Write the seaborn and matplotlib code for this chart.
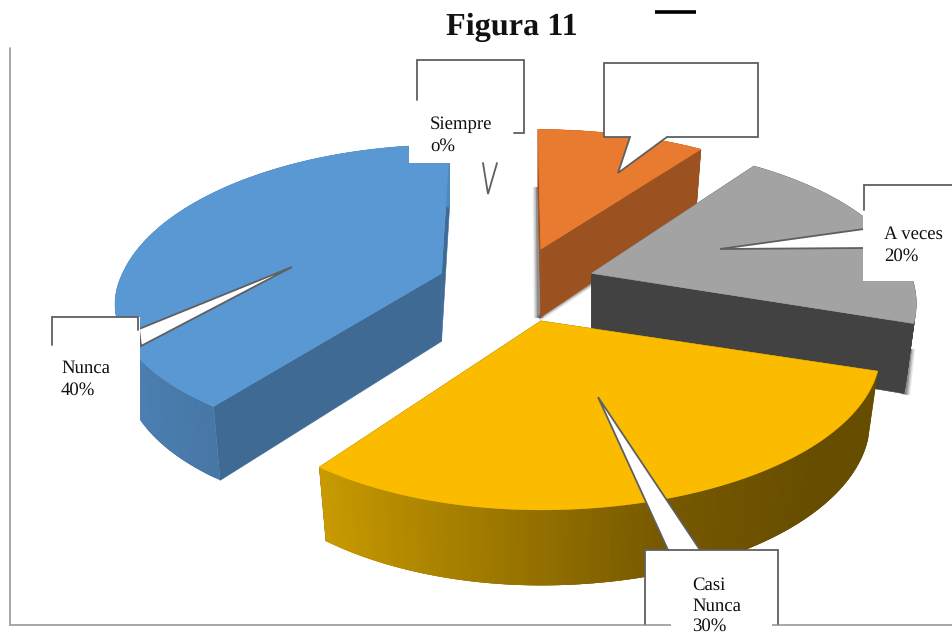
import numpy as np
import matplotlib
matplotlib.use("Agg")
import matplotlib.pyplot as plt
from matplotlib.patches import Polygon, Rectangle
import seaborn as sns

sns.set_theme(style="white")
plt.rcParams['font.family'] = ['Liberation Serif', 'DejaVu Serif']
plt.rcParams['text.hinting'] = 'no_hinting'

# data
categories = ["Siempre", "Casi Siempre", "A veces", "Casi Nunca", "Nunca"]
values = [0, 10, 20, 30, 40]
title = "Figura 11"

# style
top_colors = ["#5B9BD5", "#E97B30", "#A3A3A3", "#FBBC00", "#5A98D3"]
radial_colors = ["#3E6A94", "#9C5120", "#424242", "#664D00", "#3E6A94"]
arc_stops = [
    ["#3E6A94", "#3E6A94"],
    ["#9C5120", "#9C5120"],
    ["#424242", "#424242"],
    ["#664D00", "#664D00", "#765800", "#A07B00", "#C99A00"],
    ["#4777A6", "#5089C0", "#5089C0", "#5089C0"],
]
lean = [0, -3, 0, 0, 8]
# per-slice correction of the perspective: right, far and near stretch
stretch_right = [1, 1, 1, 1.045, 1]
stretch_far = [1, 0.93, 1, 1, 1]
stretch_near = [1, 1, 1, 1, 0.91]
draw_order = [1, 2, 4, 3]
GREY = "#5F5F5F"

# projection of the exploded pie
CX, CY, RX, RY, K = 516.5, 285.0, 319.0, 153.0, 0.19
EXPLODE, DEPTH = 0.247, 68.0


def project(t, apex, i, r=1.0, z=0.0):
    u, v = r * np.sin(t), r * np.cos(t)
    p = 1.0 / (1.0 + K * v)
    dx = RX * u * p * (stretch_right[i] if u > 0 else 1.0)
    dy = RY * v * p * (stretch_far[i] if v > 0 else stretch_near[i])
    x = apex[0] + dx + lean[i] * v
    y = apex[1] - dy
    if z:
        y = y + z * DEPTH * p ** 0.5
        x = x - dx * 0.03 * z
    return np.array([x, y])


fig = plt.figure(figsize=(9.52, 6.36), dpi=100)
ax = fig.add_axes([0, 0, 1, 1])
ax.set_xlim(0, 952)
ax.set_ylim(636, 0)
ax.axis("off")

# wedge angles from the values
total = float(sum(values))
edges = np.radians(np.cumsum([0] + values) / total * 360.0)

z = 2
for i in draw_order:
    t0, t1 = edges[i], edges[i + 1]
    mid = 0.5 * (t0 + t1)
    apex = (CX + EXPLODE * RX * np.sin(mid), CY - EXPLODE * RY * np.cos(mid))
    ts = np.linspace(t0, t1, 161)
    rim = np.array([project(t, apex, i) for t in ts])
    rim_b = np.array([project(t, apex, i, z=1.0) for t in ts])
    a_top = project(0, apex, i, r=0.0)
    a_bot = project(0, apex, i, r=0.0, z=1.0)
    # soft shadows behind the orange and grey slices
    for w, alpha in ((10, 0.10), (7, 0.16), (4, 0.25)):
        if i == 1:
            ax.plot([a_bot[0] - 2, a_top[0] - 3], [a_bot[1] + 1, a_top[1] - 62], color="black",
                    alpha=alpha, lw=w * 0.72, zorder=z - 1, solid_capstyle="butt")
            ax.plot([a_bot[0] - 2, rim_b[-1, 0] - 40], [a_bot[1] + 1, rim_b[-1, 1] + 28],
                    color="black", alpha=alpha * 0.7, lw=w * 0.5, zorder=z - 1,
                    solid_capstyle="butt")
        if i == 2:
            ax.plot([rim_b[-1, 0] + 1, rim_b[-1, 0] + 6], [rim_b[-1, 1] + 1, rim_b[-1, 1] - 45],
                    color="black", alpha=alpha, lw=w * 0.72, zorder=z - 1,
                    solid_capstyle="butt")
    # radial faces
    for k in (0, -1):
        ax.add_patch(Polygon([a_top, rim[k], rim_b[k], a_bot], closed=True,
                             fc=radial_colors[i], ec=radial_colors[i], lw=0.4, zorder=z))
    # outer curved face, gradient along the arc; each strip overlaps the next
    shades = sns.blend_palette(arc_stops[i], n_colors=len(ts) - 1)
    for j in range(len(ts) - 1):
        j2 = min(j + 3, len(ts) - 1)
        ax.add_patch(Polygon([rim[j], rim[j2], rim_b[j2], rim_b[j]], closed=True,
                             fc=shades[j], ec="none", zorder=z))
    # top face
    ax.add_patch(Polygon(np.vstack([[a_top], rim]), closed=True, fc=top_colors[i],
                         ec=top_colors[i], lw=0.4, zorder=z + 1))
    z += 2


def callout(points, closed=True, zorder=30):
    ax.add_patch(Polygon(points, closed=closed, fc="white", ec=GREY, lw=1.3,
                         joinstyle="miter", zorder=zorder))


def line(points, zorder=33):
    xs, ys = zip(*points)
    ax.plot(xs, ys, color=GREY, lw=1.3, zorder=zorder, solid_joinstyle="miter")


def white(x0, y0, x1, y1, zorder=32):
    ax.add_patch(Rectangle((x0, y0), x1 - x0, y1 - y0, fc="white", ec="none", zorder=zorder))


def label(x, y, s, spacing=1.33):
    ax.text(x, y, s, fontsize=13.5, color="#111111", va="top", ha="left", zorder=40,
            linespacing=spacing)


# Siempre callout
line([(417, 100), (417, 60), (524, 60), (524, 133), (514, 133)])
white(409, 100, 515, 163)
line([(483, 163), (488, 194), (497, 163)])
label(430, 116, f"{categories[0]}\no%")

# blank callout of the orange slice
callout([(604, 63), (758, 63), (758, 137), (667, 137), (618, 173), (630, 137), (604, 137)])

# A veces callout
callout([(720, 249), (864, 229), (864, 248)])
line([(864, 210), (864, 185), (952, 185)])
white(863, 210, 952, 281)
label(884, 226, f"{categories[2]}\n{values[2]}%")

# Nunca callout
callout([(292, 267), (139, 329), (141, 346)])
white(52, 317, 139.5, 345)
white(40, 345, 139.5, 430)
line([(52, 345), (52, 317), (138, 317), (138, 330)])
label(61, 360, f"{categories[4]}\n{values[4]}%")

# Casi Nunca callout
white(645, 550, 778, 636, zorder=30)
# chart frame, above the white box of that callout
ax.plot([9.5, 9.5, 952], [48, 624.5, 624.5], color="#A0A0A0", lw=1.3, zorder=30.5,
        solid_joinstyle="miter")
callout([(598, 397), (668, 550), (700, 550)], zorder=31)
line([(645, 624), (645, 550), (668, 550)], zorder=32)
line([(700, 550), (778, 550), (778, 624)], zorder=32)
white(671, 612, 772, 636, zorder=33)
white(664, 550.8, 704, 560, zorder=33)
label(692, 577, f"{categories[3].replace(' ', chr(10))}\n{values[3]}%", spacing=1.24)

# title and stray rule
ax.text(511.5, 27, title, fontsize=23.2, fontweight="bold", color="#111111",
        ha="center", va="center", zorder=40)
ax.plot([655, 696], [12, 12], color="black", lw=2.6, solid_capstyle="butt", zorder=40)

fig.savefig("out.png", dpi=100)
